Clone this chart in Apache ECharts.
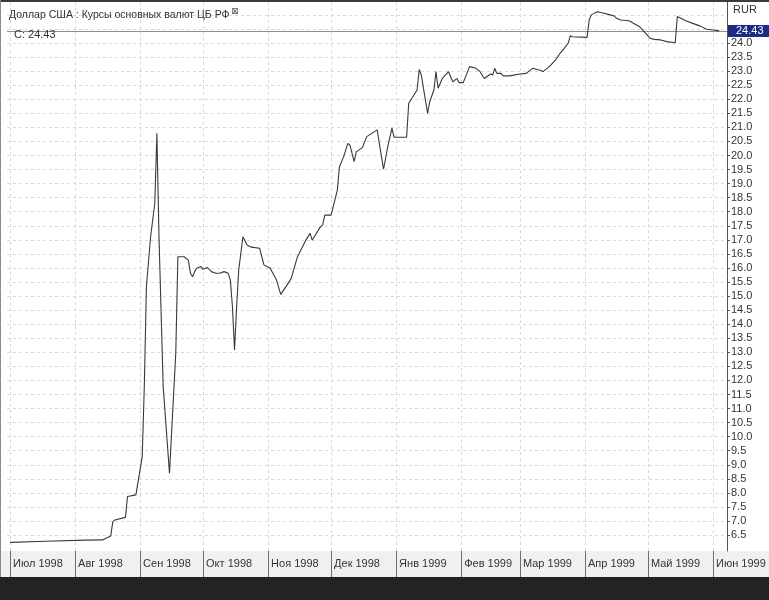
<!DOCTYPE html>
<html><head><meta charset="utf-8">
<script src="https://cdn.jsdelivr.net/npm/echarts@6/dist/echarts.min.js"></script>
<style>html,body{margin:0;padding:0;background:#fff}#c{width:769px;height:600px}</style>
</head><body><div id="c"></div>
<script>
// ---- data ----
const dates = [
'1998-07-01','1998-07-18','1998-08-06','1998-08-14','1998-08-18','1998-08-19','1998-08-20','1998-08-25','1998-08-26','1998-08-30',
'1998-09-02','1998-09-03','1998-09-04','1998-09-06','1998-09-08','1998-09-09','1998-09-10','1998-09-12','1998-09-15','1998-09-18',
'1998-09-19','1998-09-22','1998-09-24','1998-09-25','1998-09-26','1998-09-27','1998-09-28','1998-09-30','1998-10-01','1998-10-03',
'1998-10-05','1998-10-07','1998-10-09','1998-10-11','1998-10-13','1998-10-14','1998-10-15','1998-10-16','1998-10-17','1998-10-18',
'1998-10-20','1998-10-22','1998-10-24','1998-10-28','1998-10-30','1998-11-02','1998-11-05','1998-11-07','1998-11-10','1998-11-12',
'1998-11-15','1998-11-19','1998-11-21','1998-11-22','1998-11-23','1998-11-26','1998-11-27','1998-11-28','1998-12-01','1998-12-04',
'1998-12-05','1998-12-07','1998-12-09','1998-12-10','1998-12-12','1998-12-13','1998-12-16','1998-12-18','1998-12-23','1998-12-24',
'1998-12-26','1998-12-28','1998-12-30','1998-12-31','1999-01-06','1999-01-07','1999-01-11','1999-01-12','1999-01-13','1999-01-16',
'1999-01-17','1999-01-19','1999-01-20','1999-01-21','1999-01-23','1999-01-26','1999-01-28','1999-01-30','1999-01-31','1999-02-02',
'1999-02-05','1999-02-08','1999-02-10','1999-02-12','1999-02-15','1999-02-16','1999-02-17','1999-02-18','1999-02-20','1999-02-21',
'1999-02-24','1999-03-01','1999-03-04','1999-03-07','1999-03-11','1999-03-12','1999-03-15','1999-03-18','1999-03-20','1999-03-22',
'1999-03-24','1999-03-25','1999-03-26','1999-04-02','1999-04-03','1999-04-04','1999-04-06','1999-04-07','1999-04-10','1999-04-13',
'1999-04-15','1999-04-16','1999-04-18','1999-04-22','1999-04-27','1999-05-02','1999-05-04','1999-05-07','1999-05-10','1999-05-14',
'1999-05-15','1999-05-16','1999-05-19','1999-05-23','1999-05-26','1999-05-29','1999-06-01','1999-06-04'
];
const values = [
6.24,6.28,6.32,6.33,6.47,6.98,7.04,7.13,7.87,7.93,
9.29,11.78,15.33,17.11,18.30,20.79,17.11,11.78,8.70,12.98,
16.40,16.40,16.28,15.81,15.69,15.87,15.99,16.05,15.95,16.02,
15.87,15.81,15.81,15.87,15.81,15.57,14.62,13.08,14.62,15.93,
17.11,16.82,16.74,16.70,16.11,15.99,15.57,15.06,15.39,15.63,
16.40,16.99,17.23,16.99,17.11,17.47,17.53,17.88,17.88,18.77,
19.60,19.96,20.43,20.37,19.78,20.13,20.29,20.67,20.91,20.43,
19.51,20.31,20.97,20.65,20.65,21.86,22.33,23.06,22.86,21.50,
21.91,22.33,22.98,22.39,22.74,22.98,22.62,22.74,22.59,22.59,
23.16,23.10,22.98,22.74,22.90,22.86,23.10,22.92,22.92,22.83,
22.83,22.90,22.92,23.10,23.02,22.98,23.16,23.40,23.62,23.80,
23.99,24.26,24.22,24.20,24.82,25.00,25.08,25.11,25.06,25.00,
24.96,24.88,24.82,24.79,24.58,24.17,24.13,24.11,24.05,24.01,
24.94,24.91,24.79,24.68,24.60,24.49,24.46,24.43
];
const monthStarts = ['1998-07-01','1998-08-01','1998-09-01','1998-10-01','1998-11-01','1998-12-01',
  '1999-01-01','1999-02-01','1999-03-01','1999-04-01','1999-05-01','1999-06-01'];
const monthLabels = ['Июл 1998','Авг 1998','Сен 1998','Окт 1998','Ноя 1998','Дек 1998',
  'Янв 1999','Фев 1999','Мар 1999','Апр 1999','Май 1999','Июн 1999'];
const yLabelValues = [6.5,7.0,7.5,8.0,8.5,9.0,9.5,10.0,10.5,11.0,11.5,12.0,12.5,13.0,13.5,14.0,14.5,15.0,
  15.5,16.0,16.5,17.0,17.5,18.0,18.5,19.0,19.5,20.0,20.5,21.0,21.5,22.0,22.5,23.0,23.5,24.0];
const yGridValues = [6.5,7.0,7.5,8.0,8.5,9.0,9.5,10.0,10.5,11.0,11.5,12.0,12.5,13.0,13.5,14.0,14.5,15.0,
  15.5,16.0,16.5,17.0,17.5,18.0,18.5,19.0,19.5,20.0,20.5,21.0,21.5,22.0,22.5,23.0,23.5,24.0,24.5,25.0];
const lastValue = 24.43;
const titleText = 'Доллар США : Курсы основных валют ЦБ РФ';
const closeText = 'C: 24.43';
const currencyText = 'RUR';

// ---- layout ----
function ts(s){ const p = s.split('-'); return Date.UTC(+p[0], +p[1]-1, +p[2]); }
const DAY = 86400000;
const PX_PER_DAY = 2.0985;
const t0 = ts(monthStarts[0]);
const dataX0 = 10;
const plotL = 7, plotR = 727, plotT = 2, plotB = 551, W = 769;
const xMin0 = t0 - (dataX0 - plotL) / PX_PER_DAY * DAY;
const xMax0 = t0 + (plotR - dataX0) / PX_PER_DAY * DAY;
const xMin1 = t0 - dataX0 / PX_PER_DAY * DAY;
const xMax1 = t0 + (W - dataX0) / PX_PER_DAY * DAY;
const PX_PER_UNIT = 28.12, Y24 = 43;
const yMin = 24 - (plotB - Y24) / PX_PER_UNIT;
const yMax = 24 + (Y24 - plotT) / PX_PER_UNIT;

const monthTs = monthStarts.map(ts);
const seriesData = dates.map((d, i) => [ts(d), values[i]]);
const FONT = 'Liberation Sans';

const chart = echarts.init(document.getElementById('c'), null, {renderer: 'canvas'});
chart.setOption({
  animation: false,
  backgroundColor: '#ffffff',
  grid: [
    {left: plotL, right: W - plotR, top: plotT, bottom: 600 - plotB, containLabel: false},
    {left: 0, right: 0, top: plotB, height: 26, show: true, backgroundColor: '#f0f0f0', borderWidth: 0}
  ],
  xAxis: [
    {type: 'value', gridIndex: 0, min: xMin0, max: xMax0,
     axisLine: {show: false}, axisLabel: {show: false},
     axisTick: {show: false, customValues: monthTs},
     splitLine: {show: true, lineStyle: {color: '#d9d9d9', type: [3, 3], width: 1}}},
    {type: 'value', gridIndex: 1, min: xMin1, max: xMax1, position: 'top',
     axisLine: {show: true, lineStyle: {color: '#6a6a6a', width: 1}},
     axisTick: {show: false, customValues: monthTs},
     axisLabel: {show: true, inside: true, margin: 7, customValues: monthTs, align: 'left',
       padding: [0, 0, 0, 3], color: '#333', fontSize: 11, fontFamily: FONT, hideOverlap: false,
       showMinLabel: true, showMaxLabel: true,
       formatter: v => { const i = monthTs.indexOf(v); return i >= 0 ? monthLabels[i] : ''; }},
     splitLine: {show: true, lineStyle: {color: '#6e6e6e', width: 1, type: 'solid'}}}
  ],
  yAxis: [
    {type: 'value', gridIndex: 0, position: 'right', min: yMin, max: yMax,
     axisLine: {show: true, lineStyle: {color: '#555', width: 1}},
     axisTick: {show: true, inside: false, length: 3, customValues: yLabelValues, lineStyle: {color: '#555'}},
     axisLabel: {show: true, margin: 4, customValues: yLabelValues, color: '#333', fontSize: 11, fontFamily: FONT,
       formatter: v => v.toFixed(1)},
     splitLine: {show: false}},
    {type: 'value', gridIndex: 0, position: 'right', min: yMin, max: yMax,
     axisLine: {show: false}, axisLabel: {show: false},
     axisTick: {show: false, customValues: yGridValues},
     splitLine: {show: true, lineStyle: {color: '#d9d9d9', type: [3, 3], width: 1}}},
    {type: 'value', gridIndex: 1, min: 0, max: 1,
     axisLine: {show: false}, axisLabel: {show: false}, axisTick: {show: false}, splitLine: {show: false}}
  ],
  series: [{
    type: 'line', xAxisIndex: 0, yAxisIndex: 0, data: seriesData,
    showSymbol: false, symbol: 'none', smooth: false,
    lineStyle: {color: '#383844', width: 1.1},
    z: 5,
    markLine: {
      silent: true, symbol: 'none', animation: false,
      lineStyle: {color: '#8e8e8e', type: 'solid', width: 1},
      label: {show: true, position: 'end', distance: 1, formatter: lastValue.toFixed(2),
        backgroundColor: '#1f2a82', color: '#ffffff', fontSize: 11, fontFamily: FONT,
        padding: [1, 6, 0, 8]},
      data: [{yAxis: lastValue}]
    }
  }],
  graphic: [
    {type: 'rect', shape: {x: 0, y: 0, width: W, height: 2}, style: {fill: '#3a3a3a'}, z: 100},
    {type: 'rect', shape: {x: 0, y: 577, width: W, height: 23}, style: {fill: '#232323'}, z: 100},
    {type: 'line', shape: {x1: 0.5, y1: 0, x2: 0.5, y2: 577}, style: {stroke: '#8a8a8a', lineWidth: 1}, z: 100},
    {type: 'text', left: 9, top: 10, style: {text: titleText, fill: '#333', font: '10.5px "Liberation Sans"'}, z: 100},
    {type: 'text', left: 231, top: 7, style: {text: '⊠', fill: '#555', font: '9px "DejaVu Sans"'}, z: 100},
    {type: 'text', left: 14, top: 29, style: {text: closeText, fill: '#333', font: '11px "Liberation Sans"'}, z: 100},
    {type: 'text', left: 733, top: 4, style: {text: currencyText, fill: '#333', font: '11px "Liberation Sans"'}, z: 100}
  ]
});
</script>
</body></html>
